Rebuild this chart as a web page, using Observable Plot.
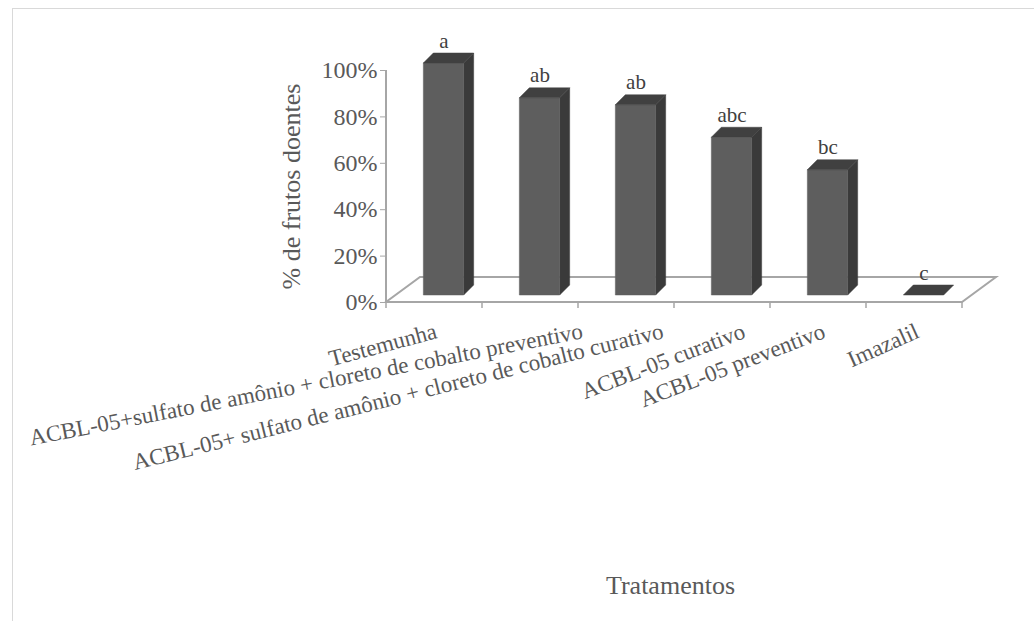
<!DOCTYPE html>
<html lang="pt">
<head>
<meta charset="utf-8">
<title>% de frutos doentes por tratamento</title>
<script src="https://cdn.jsdelivr.net/npm/d3@7"></script>
<script src="https://cdn.jsdelivr.net/npm/@observablehq/plot@0.6"></script>
<style>
  html, body { margin: 0; padding: 0; background: #ffffff; }
  #chart { position: relative; width: 1034px; height: 621px; overflow: hidden; }
  #borda { position: absolute; left: 12px; top: 8px; width: 1040px; height: 700px; border: 1px solid #d9d9d9; box-sizing: border-box; }
  #chart svg { position: absolute; left: 0; top: 0; }
</style>
</head>
<body>
<div id="chart"><div id="borda"></div></div>
<script>
// Tratamentos e porcentagem de frutos doentes
const tratamentos = [
  "Testemunha",
  "ACBL-05+sulfato de amônio + cloreto de cobalto preventivo",
  "ACBL-05+ sulfato de amônio + cloreto de cobalto curativo",
  "ACBL-05 curativo",
  "ACBL-05 preventivo",
  "Imazalil"
];
const doentes = [100, 85, 82, 68, 54, 0];
const letras = ["a", "ab", "ab", "abc", "bc", "c"];
const yTicks = [0, 20, 40, 60, 80, 100];

const dados = tratamentos.map((t, i) => ({trat: t, valor: doentes[i], letra: letras[i]}));

// 3D look: depth offsets in pixels
const FLOOR = {dx: 34, dy: -25};   // floor depth
const FRONT = {dx: 9.5, dy: -7};   // bar front plane, inside the floor
const DEPTH = 10;                   // bar thickness
const BAR_FRAC = 0.42;              // bar width as fraction of band
const serif = "'Liberation Serif', 'Times New Roman', Times, serif";
const textColor = "#595959";
const lineColor = "#a6a6a6";

// category label styling
const LABEL_SIZE = 23;
const LABEL_TILT = [15, 11, 14, 21, 21, 24];   // degrees, counter-clockwise
const LEFT_LIMIT = 28;                          // labels never start left of this
const MIN_GAP = 80;                             // minimum distance between consecutive label ends

const ctx = document.createElement("canvas").getContext("2d");
function largura(s, size) {
  ctx.font = `${size}px ${serif}`;
  return ctx.measureText(s).width;
}

// floor parallelogram, value axis line and category ticks
function piso(index, {x, y}) {
  const g = d3.create("svg:g");
  const [xL, xR] = x.range();
  const y0 = y(0);
  const pts = [[xL, y0], [xR, y0], [xR + FLOOR.dx, y0 + FLOOR.dy], [xL + FLOOR.dx, y0 + FLOOR.dy]];
  g.append("polygon")
    .attr("points", pts.map(p => p.join(",")).join(" "))
    .attr("fill", "#ffffff")
    .attr("stroke", lineColor)
    .attr("stroke-width", 2)
    .attr("stroke-linejoin", "miter");
  g.append("line")
    .attr("x1", xL).attr("x2", xL)
    .attr("y1", y(0)).attr("y2", y(100))
    .attr("stroke", lineColor).attr("stroke-width", 2);
  const bw = x.bandwidth();
  const bordas = x.domain().map(d => x(d)).concat([x(x.domain().at(-1)) + bw]);
  for (const bx of bordas) {
    g.append("line")
      .attr("x1", bx).attr("x2", bx)
      .attr("y1", y0).attr("y2", y0 + 6)
      .attr("stroke", lineColor).attr("stroke-width", 1.5);
  }
  return g.node();
}

// prisms: front, side and top faces
function prismas(index, {x, y}) {
  const g = d3.create("svg:g");
  const bw = x.bandwidth();
  const w = bw * BAR_FRAC;
  const poly = (pts, fill) => g.append("polygon")
    .attr("points", pts.map(p => p.join(",")).join(" "))
    .attr("fill", fill)
    .attr("stroke", fill)
    .attr("stroke-width", 0.5);
  for (const d of dados) {
    const cx = x(d.trat) + bw / 2 + FRONT.dx;
    const xl = cx - w / 2, xr = cx + w / 2;
    const yb = y(0) + FRONT.dy;
    const yt = y(d.valor) + FRONT.dy;
    if (yb - yt > 0.5) {
      poly([[xr, yt], [xr + DEPTH, yt - DEPTH], [xr + DEPTH, yb - DEPTH], [xr, yb]], "#3a3a3a");
      poly([[xl, yt], [xr, yt], [xr, yb], [xl, yb]], "#5e5e5e");
    }
    poly([[xl, yt], [xr, yt], [xr + DEPTH, yt - DEPTH], [xl + DEPTH, yt - DEPTH]], "#404040");
  }
  return g.node();
}

// rotated category labels ending under each category;
// pushed right when they would leave the chart or crowd the previous label
function rotulos(index, {x, y}) {
  const g = d3.create("svg:g")
    .attr("font-family", serif)
    .attr("font-size", LABEL_SIZE)
    .attr("fill", textColor);
  const bw = x.bandwidth();
  const y0 = y(0);
  let anterior = -Infinity;
  x.domain().forEach((t, i) => {
    const ang = LABEL_TILT[i];
    const w = largura(t, LABEL_SIZE);
    const cx = x(t) + bw / 2;
    const xe = Math.max(cx, LEFT_LIMIT + w * Math.cos(ang * Math.PI / 180), anterior + MIN_GAP);
    anterior = xe;
    const ye = y0 + 20;
    g.append("text")
      .attr("transform", `translate(${xe},${ye}) rotate(${-ang})`)
      .attr("text-anchor", "end")
      .attr("dy", "0.71em")
      .text(t);
  });
  return g.node();
}

const grafico = Plot.plot({
  width: 1034,
  height: 621,
  marginLeft: 386,
  marginRight: 72,
  marginTop: 70,
  marginBottom: 319,
  x: {type: "band", domain: tratamentos, padding: 0, axis: null},
  y: {domain: [0, 100], axis: null},
  style: {fontFamily: serif, fontSize: "22px", background: "transparent", overflow: "visible"},
  marks: [
    piso,
    prismas,
    rotulos,
    Plot.axisY(yTicks, {
      tickFormat: d => d + "%",
      tickSize: 6,
      tickPadding: 3,
      stroke: lineColor,
      fill: textColor,
      fontSize: 24,
      label: null
    }),
    Plot.text(dados, {
      x: "trat",
      y: "valor",
      text: "letra",
      dx: FRONT.dx,
      dy: FRONT.dy - DEPTH - 6,
      lineAnchor: "bottom",
      fill: "#404040",
      fontSize: 21
    }),
    Plot.text(["% de frutos doentes"], {
      frameAnchor: "left",
      text: d => d,
      rotate: -90,
      textAnchor: "middle",
      dx: -95,
      lineAnchor: "middle",
      fill: textColor,
      fontSize: 26
    }),
    Plot.text(["Tratamentos"], {
      frameAnchor: "bottom",
      text: d => d,
      dx: -4,
      dy: 283,
      textAnchor: "middle",
      lineAnchor: "middle",
      fill: textColor,
      fontSize: 26
    })
  ]
});

document.getElementById("chart").appendChild(grafico);
</script>
</body>
</html>
